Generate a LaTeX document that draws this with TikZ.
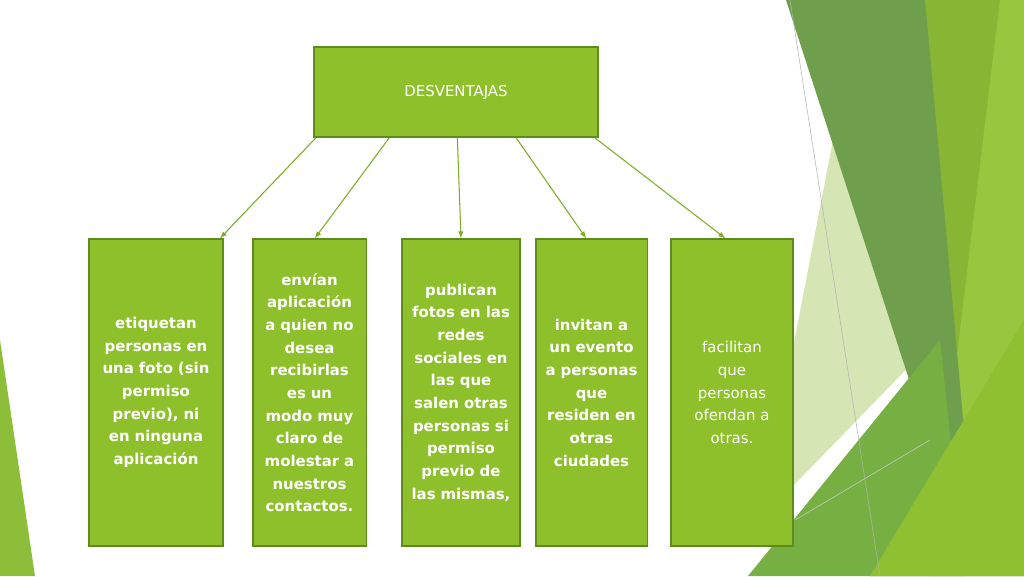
\documentclass[tikz,border=0pt]{standalone}
\usepackage{fontspec}
\setmainfont{DejaVu Sans}
\begin{document}
\begin{tikzpicture}[x=0.75pt,y=-0.75pt,
  box/.style={draw=gbord,fill=gfill,line width=1pt,text=white,align=center,inner sep=2pt,font=\bfseries\fontsize{11.2}{17}\selectfont},
  arr/.style={draw=gfill!90!black,line width=0.8pt,-latex}]
\definecolor{gfill}{HTML}{8DC02B}
\definecolor{gbord}{HTML}{5E8A1E}
\useasboundingbox (0,0) rectangle (1024,576);
\fill[white] (0,0) rectangle (1024,576);
% decoration
\fill[color={rgb,255:red,136;green,181;blue,52}] (920,0)--(1024,0)--(1024,576)--(870,576)--(950,470)--cycle;
\fill[color={rgb,255:red,152;green,198;blue,62}] (1000,0)--(1024,0)--(1024,576)--(930,576)--(960,330)--cycle;
\fill[color={rgb,255:red,213;green,230;blue,180}] (833,140)--(925,350)--(760,520)--cycle;
\fill[color={rgb,255:red,111;green,158;blue,77}] (786,0)--(925,0)--(965,440)--(940,475)--cycle;
\fill[color={rgb,255:red,118;green,176;blue,67}] (748,576)--(940,340)--(965,576)--cycle;
\fill[color={rgb,255:red,143;green,192;blue,49}] (870,576)--(1024,320)--(1024,576)--cycle;
\fill[color={rgb,255:red,141;green,190;blue,58}] (0,340)--(35,576)--(0,576)--cycle;
\draw[gray!60,line width=0.4pt] (790,0)--(880,576);
\draw[gray!40,line width=0.4pt] (795,520)--(930,440);
% boxes
\node[box,font=\fontsize{11.2}{17}\selectfont,minimum width={284*0.75pt},minimum height={90*0.75pt}] (top) at (456,92) {DESVENTAJAS};
\node[box,minimum width={134*0.75pt},minimum height={307*0.75pt},text width={124*0.75pt}] (b1) at (156,392.5) {etiquetan\\personas en\\una foto (sin\\permiso\\previo), ni\\en ninguna\\aplicación};
\node[box,minimum width={113*0.75pt},minimum height={307*0.75pt},text width={108*0.75pt}] (b2) at (309.5,392.5) {envían\\aplicación\\a quien no\\desea\\recibirlas\\es un\\modo muy\\claro de\\molestar a\\nuestros\\contactos.};
\node[box,minimum width={118*0.75pt},minimum height={307*0.75pt},text width={112*0.75pt}] (b3) at (461,392.5) {publican\\fotos en las\\redes\\sociales en\\las que\\salen otras\\personas si\\permiso\\previo de\\las mismas,};
\node[box,minimum width={111*0.75pt},minimum height={307*0.75pt},text width={106*0.75pt}] (b4) at (591.5,392.5) {invitan a\\un evento\\a personas\\que\\residen en\\otras\\ciudades};
\node[box,font=\fontsize{11.2}{17}\selectfont,minimum width={122*0.75pt},minimum height={307*0.75pt},text width={116*0.75pt}] (b5) at (732,392.5) {facilitan\\que\\personas\\ofendan a\\otras.};
\draw[arr] ([xshift=-105pt]top.south) -- ([xshift=48pt]b1.north);
\draw[arr] ([xshift=-50pt]top.south) -- ([xshift=4pt]b2.north);
\draw[arr] ([xshift=1pt]top.south) -- (b3.north);
\draw[arr] ([xshift=45pt]top.south) -- ([xshift=-4pt]b4.north);
\draw[arr] ([xshift=104pt]top.south) -- ([xshift=-5pt]b5.north);
\end{tikzpicture}
\end{document}
